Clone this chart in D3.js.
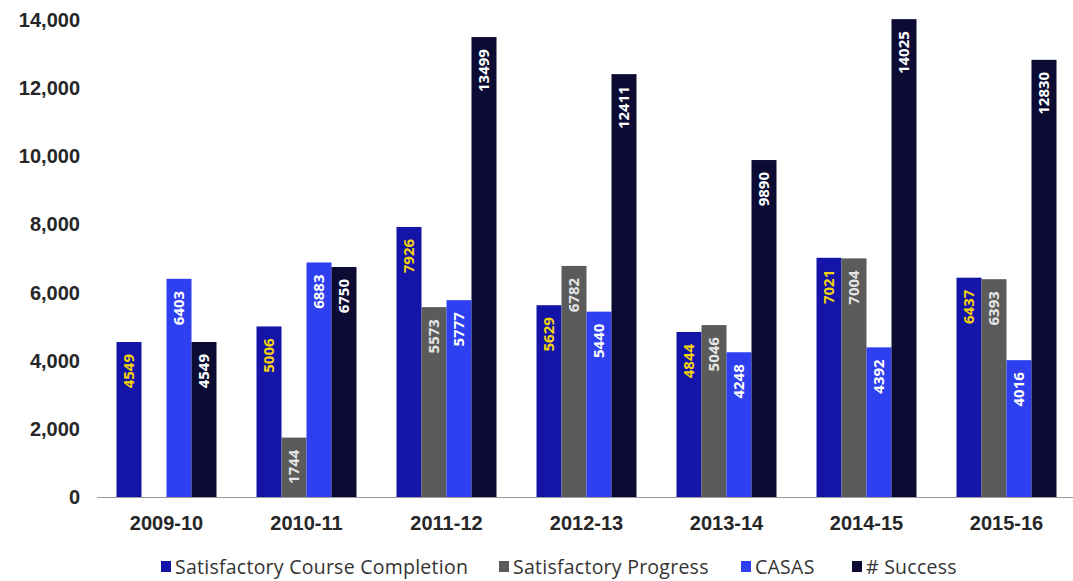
<!DOCTYPE html>
<html><head><meta charset="utf-8">
<script src="https://cdn.jsdelivr.net/npm/d3@7"></script>
<style>body{margin:0;background:#fff}</style>
</head><body><svg id="c" width="1073" height="581"></svg>
<script>
const categories = ["2009-10","2010-11","2011-12","2012-13","2013-14","2014-15","2015-16"];
const seriesNames = ["Satisfactory Course Completion","Satisfactory Progress","CASAS","# Success"];
const courseCompletion = [4549,5006,7926,5629,4844,7021,6437];
const satProgress = [null,1744,5573,6782,5046,7004,6393];
const casas = [6403,6883,5777,5440,4248,4392,4016];
const success = [4549,6750,13499,12411,9890,14025,12830];
const yTicks = [0,2000,4000,6000,8000,10000,12000,14000];
const colors = ["#1414a8","#5b5b5b","#2e3ff0","#0b0b33"];
const labelColors = ["#f4d30a","#e6e6e6","#ffffff","#ffffff"];
const seriesValues = [courseCompletion, satProgress, casas, success];

const svg = d3.select("#c");
const y = d3.scaleLinear().domain([0,14000]).range([497,20]);
const x = d3.scaleBand().domain(categories).range([96.5,1076.5]);
const xs = d3.scaleBand().domain(seriesNames).range([20,120]);

svg.append("g").selectAll("text").data(yTicks).join("text")
  .attr("x",80).attr("y",d=>y(d)).attr("dy","0.35em").attr("text-anchor","end")
  .attr("font-family","Liberation Sans, Arial, sans-serif").attr("font-weight","bold")
  .attr("font-size",20).attr("fill","#262626")
  .text(d=>d3.format(",")(d));

svg.append("line").attr("x1",97).attr("x2",1073).attr("y1",497.5).attr("y2",497.5)
  .attr("stroke","#9a9a9a").attr("stroke-width",1.2);

svg.append("g").selectAll("text").data(categories).join("text")
  .attr("x",d=>x(d)+70).attr("y",523).attr("dy","0.35em").attr("text-anchor","middle")
  .attr("font-family","Liberation Sans, Arial, sans-serif").attr("font-weight","bold")
  .attr("font-size",20).attr("fill","#262626").text(d=>d);

const data = [];
categories.forEach((c,i)=>seriesNames.forEach((s,j)=>{
  const v = seriesValues[j][i];
  if(v!=null) data.push({c,s,j,v});
}));

const g = svg.append("g");
g.selectAll("rect").data(data).join("rect")
  .attr("x",d=>x(d.c)+xs(d.s)).attr("width",xs.bandwidth())
  .attr("y",d=>y(d.v)).attr("height",d=>y(0)-y(d.v))
  .attr("fill",d=>colors[d.j]);

g.selectAll("text").data(data).join("text")
  .attr("transform",d=>`translate(${x(d.c)+xs(d.s)+xs.bandwidth()/2},${y(d.v)+12}) rotate(-90)`)
  .attr("text-anchor","end").attr("dy","0.36em")
  .attr("font-family","Open Sans, Liberation Sans, sans-serif").attr("font-weight","bold")
  .attr("font-size",15).attr("fill",d=>labelColors[d.j]).text(d=>d.v);

const legendX = [161,499,741,852];
const lg = svg.append("g").selectAll("g").data(seriesNames).join("g")
  .attr("transform",(d,i)=>`translate(${legendX[i]},567)`);
lg.append("rect").attr("x",0).attr("y",-6).attr("width",10).attr("height",11).attr("fill",(d,i)=>colors[i]);
lg.append("text").attr("x",14).attr("y",0).attr("dy","0.35em")
  .attr("font-family","Open Sans, sans-serif").attr("font-size",19.5).attr("letter-spacing",0.25).attr("fill","#333")
  .text(d=>d);
</script></body></html>
